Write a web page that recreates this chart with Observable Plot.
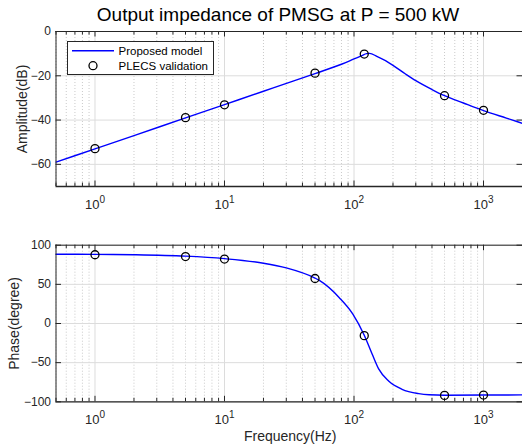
<!DOCTYPE html>
<html>
<head>
<meta charset="utf-8">
<script src="https://cdn.jsdelivr.net/npm/d3@7"></script>
<script src="https://cdn.jsdelivr.net/npm/@observablehq/plot@0.6"></script>
<style>
  body { margin: 0; background: #fff; font-family: "Liberation Sans", Arial, sans-serif; }
  #wrap { position: relative; width: 522px; height: 445px; overflow: hidden; background: #fff; }
  #title { position: absolute; left: 78px; width: 400px; top: 4px; text-align: center; font-size: 19px; line-height: 22px; color: #000; white-space: nowrap; }
  .panel { position: absolute; left: 0; }
  #legend { position: absolute; left: 66.5px; top: 41px; width: 147px; height: 34px; box-sizing: border-box; border: 1px solid #262626; background: #fff; font-size: 11.5px; color: #000; }
  #legend svg { position: absolute; left: 0; top: 0; }
  #legend span { position: absolute; left: 51px; line-height: 14px; white-space: nowrap; }
</style>
</head>
<body>
<div id="wrap">
  <div id="top" class="panel" style="top:0px"></div>
  <div id="bottom" class="panel" style="top:215px"></div>
  <div id="title">Output impedance of PMSG at P = 500 kW</div>
  <div id="legend">
    <svg width="145" height="32">
      <line x1="4" x2="46" y1="8.7" y2="8.7" stroke="#0000ff" stroke-width="1.4"></line>
      <circle cx="25" cy="23.7" r="4" fill="none" stroke="#000" stroke-width="1.3"></circle>
    </svg>
    <span style="top:1.5px">Proposed model</span>
    <span style="top:16.5px">PLECS validation</span>
  </div>
</div>
<script>
// ---- data ----
const seriesNames = ["Proposed model", "PLECS validation"];
const titleText = "Output impedance of PMSG at P = 500 kW";

// Proposed model: amplitude curve (Hz, dB)
const ampFreq = [0.5, 1, 2, 5, 10, 20, 50, 80, 100, 115, 125, 132, 150, 175, 200, 250, 300, 400, 500, 700, 1000, 1500, 2000];
const ampDb   = [-59, -53, -47, -39, -33, -27, -19, -14.8, -12.4, -10.9, -10.0, -9.9, -11.2, -13.2, -15.3, -19.2, -22.2, -26.2, -29, -32.3, -35.7, -39.1, -41.5];

// Proposed model: phase curve (Hz, degree)
const phFreq = [0.5, 1, 2, 5, 10, 20, 30, 50, 54, 77, 98, 120, 138, 155, 185, 235, 316, 380, 500, 1000, 2000];
const phDeg  = [88.5, 88.3, 87.8, 86, 82.8, 77, 71, 58, 55, 33, 12, -15, -39, -58, -73.5, -84, -89.5, -91, -91.6, -91.4, -91.2];

// PLECS validation points
const valFreq  = [1, 5, 10, 50, 120, 500, 1000];
const valAmp   = [-52.9, -38.9, -33.1, -18.8, -10.2, -29.0, -35.6];
const valPhase = [87.8, 85.5, 82.3, 57.5, -15.5, -91.8, -91.4];

// axes
const xDomain = [0.5, 2000];
const xMajor = [1, 10, 100, 1000];
const ampTicks = [-60, -40, -20, 0];
const ampDomain = [-70, 0];
const phTicks = [-100, -50, 0, 50, 100];
const phDomain = [-100, 100];
const ampLabel = "Amplitude(dB)";
const phLabel = "Phase(degree)";
const freqLabel = "Frequency(Hz)";

const xMinor = [];
for (let e = -1; e <= 3; e++) for (let m = 2; m <= 9; m++) {
  const v = m * Math.pow(10, e);
  if (v >= xDomain[0] && v <= xDomain[1]) xMinor.push(v);
}

const W = 522, ML = 55.5, MR = 0;
const frameW = W - ML - MR;
const BLUE = "#0000ff";

function panel({height, marginTop, marginBottom, yDomain, yTicks, fx, fy, dx, dy, yLabel, yLabelDx, xLabel}) {
  const fh = height - marginTop - marginBottom;
  const line = fx.map((f, i) => ({f, v: fy[i]}));
  const dots = dx.map((f, i) => ({f, v: dy[i]}));
  const marks = [
    Plot.ruleX(xMinor, {stroke: "#bdbdbd", strokeWidth: 0.8, strokeDasharray: "1,2"}),
    Plot.ruleX(xMajor, {stroke: "#dcdcdc", strokeWidth: 1}),
    Plot.ruleY(yTicks, {stroke: "#dcdcdc", strokeWidth: 1}),
    Plot.ruleX(xMinor, {stroke: "#262626", insetTop: fh - 3.5}),
    Plot.ruleX(xMinor, {stroke: "#262626", insetBottom: fh - 3.5}),
    Plot.ruleX(xMajor, {stroke: "#262626", insetTop: fh - 5.5}),
    Plot.ruleX(xMajor, {stroke: "#262626", insetBottom: fh - 5.5}),
    Plot.ruleY(yTicks, {stroke: "#262626", insetRight: frameW - 5.5}),
    Plot.ruleY(yTicks, {stroke: "#262626", insetLeft: frameW - 5.5}),
    Plot.line(line, {x: "f", y: "v", stroke: BLUE, strokeWidth: 1.4, curve: "monotone-x"}),
    Plot.dot(dots, {x: "f", y: "v", r: 4, stroke: "#000", strokeWidth: 1.3, fill: "none"}),
    Plot.ruleX([xDomain[0]], {stroke: "#262626", strokeWidth: 1}),
    Plot.ruleY([yDomain[0]], {stroke: "#262626", strokeWidth: 1.3}),
    Plot.ruleY([yDomain[1]], {stroke: "#262626", strokeWidth: 1}),
    Plot.axisX({ticks: xMajor, tickSize: 0, tickPadding: 13, fontSize: 13, tickFormat: d => "10^" + Math.round(Math.log10(d)), label: null}),
    Plot.axisY({ticks: yTicks, tickSize: 0, tickPadding: 5, fontSize: 12, label: null}),
    Plot.text([yLabel], {frameAnchor: "left", rotate: -90, dx: yLabelDx, fontSize: 14, fill: "#262626", textAnchor: "middle", lineAnchor: "middle"})
  ];
  if (xLabel) marks.push(Plot.text([xLabel], {frameAnchor: "bottom", dy: 35, dx: 1, fontSize: 14, fill: "#262626", lineAnchor: "middle"}));
  const svg = Plot.plot({
    width: W, height, marginTop, marginBottom, marginLeft: ML, marginRight: MR,
    x: {type: "log", domain: xDomain},
    y: {domain: yDomain},
    style: {fontFamily: '"Liberation Sans", Arial, sans-serif', fontSize: "12px", color: "#262626", background: "transparent", overflow: "visible"},
    marks
  });
  svg.querySelectorAll('g[aria-label="x-axis tick label"] text').forEach(t => {
    const s = t.textContent;
    if (s.startsWith("10^")) {
      const exp = s.slice(3);
      t.textContent = "";
      const base = document.createElementNS("http://www.w3.org/2000/svg", "tspan");
      base.textContent = "10";
      const sup = document.createElementNS("http://www.w3.org/2000/svg", "tspan");
      sup.textContent = exp;
      sup.setAttribute("font-size", "10");
      sup.setAttribute("dy", "-6");
      t.appendChild(base);
      t.appendChild(sup);
    }
  });
  return svg;
}

document.getElementById("top").appendChild(panel({
  height: 215, marginTop: 31, marginBottom: 29,
  yDomain: ampDomain, yTicks: ampTicks,
  fx: ampFreq, fy: ampDb, dx: valFreq, dy: valAmp,
  yLabel: ampLabel, yLabelDx: -33
}));
document.getElementById("bottom").appendChild(panel({
  height: 230, marginTop: 29.7, marginBottom: 43.7,
  yDomain: phDomain, yTicks: phTicks,
  fx: phFreq, fy: phDeg, dx: valFreq, dy: valPhase,
  yLabel: phLabel, yLabelDx: -41.5, xLabel: freqLabel
}));
</script>
</body>
</html>
